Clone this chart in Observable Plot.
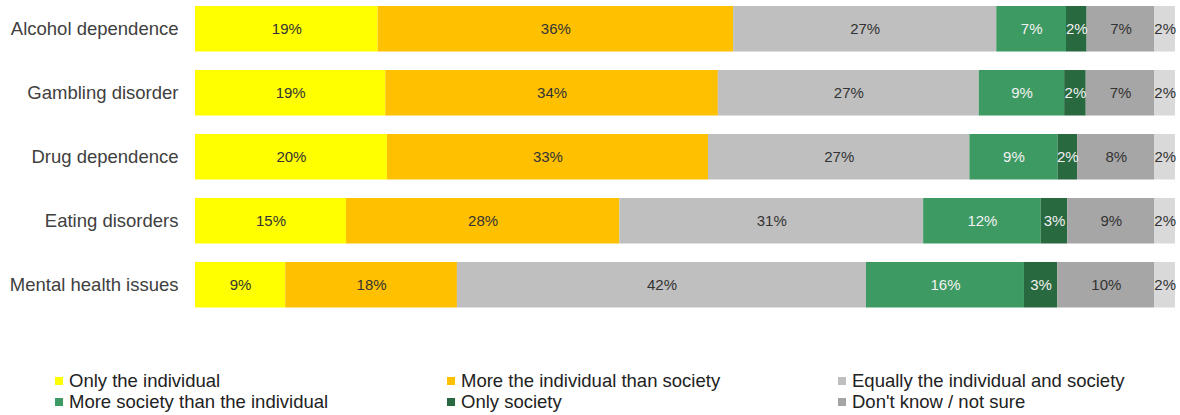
<!DOCTYPE html>
<html>
<head>
<meta charset="utf-8">
<script src="https://cdn.jsdelivr.net/npm/d3@7"></script>
<script src="https://cdn.jsdelivr.net/npm/@observablehq/plot@0.6"></script>
<style>
  body { margin: 0; background: #fff; font-family: "Liberation Sans", Arial, sans-serif; }
  #chart svg { display: block; }
  #legend { position: relative; width: 1180px; height: 60px; margin-top: 50px; font-size: 18.5px; color: #222; }
  .li { position: absolute; display: flex; align-items: center; white-space: nowrap; line-height: 21px; }
  .sw { width: 8px; height: 8px; margin-right: 6px; }
</style>
</head>
<body>
<div id="chart"></div>
<div id="legend"></div>
<script>
const categories = ["Alcohol dependence", "Gambling disorder", "Drug dependence", "Eating disorders", "Mental health issues"];
const responses = ["Only the individual", "More the individual than society", "Equally the individual and society", "More society than the individual", "Only society", "Don't know / not sure", "No answer"];
const onlyIndividual   = [18.6, 19.4, 19.6, 15.4, 9.2];
const moreIndividual   = [36.2, 33.9, 32.8, 27.9, 17.5];
const equally          = [26.8, 26.6, 26.7, 31.0, 41.7];
const moreSociety      = [7.1, 8.7, 9.0, 12.0, 16.1];
const onlySociety      = [2.1, 2.2, 2.0, 2.7, 3.4];
const dontKnow         = [6.9, 7.0, 7.9, 8.9, 9.9];
const noAnswer         = [2.1, 2.1, 2.1, 2.1, 2.1];
const colors = ["#ffff00", "#ffc000", "#bfbfbf", "#3d9a62", "#28693f", "#a6a6a6", "#d9d9d9"];
const textColors = ["#333333", "#333333", "#333333", "#f2f2f2", "#f2f2f2", "#333333", "#333333"];
const legendItems = [0, 1, 2, 3, 4, 5];

const seriesValues = [onlyIndividual, moreIndividual, equally, moreSociety, onlySociety, dontKnow, noAnswer];
const data = [];
categories.forEach((c, i) => {
  responses.forEach((r, j) => {
    data.push({category: c, response: r, value: seriesValues[j][i], tcolor: textColors[j]});
  });
});

const chart = Plot.plot({
  width: 1180,
  height: 320,
  marginLeft: 195,
  marginRight: 5,
  marginTop: 0,
  marginBottom: 6.5,
  style: {fontFamily: "'Liberation Sans', Arial, sans-serif", background: "#fff"},
  x: {axis: null},
  y: {domain: categories, paddingInner: 0.289, paddingOuter: 0.094, round: false, label: null},
  color: {domain: responses, range: colors},
  marks: [
    Plot.barX(data, Plot.stackX({offset: "normalize", x: "value", y: "category", fill: "response"})),
    Plot.text(data, Plot.stackX({offset: "normalize", x: "value", y: "category", text: d => `${Math.round(d.value)}%`, fill: "tcolor", fontSize: 15})),
    Plot.axisY({tickSize: 0, tickPadding: 17, fontSize: 18.5, color: "#404040", label: null})
  ]
});
document.getElementById("chart").append(chart);

const legend = document.getElementById("legend");
const colX = [55, 447, 838];
legendItems.forEach((j, k) => {
  const row = Math.floor(k / 3), col = k % 3;
  const item = document.createElement("div");
  item.className = "li";
  item.style.left = colX[col] + "px";
  item.style.top = (row * 21) + "px";
  const sw = document.createElement("span");
  sw.className = "sw";
  sw.style.background = colors[j];
  const t = document.createElement("span");
  t.textContent = responses[j];
  item.append(sw, t);
  legend.append(item);
});
</script>
</body>
</html>
